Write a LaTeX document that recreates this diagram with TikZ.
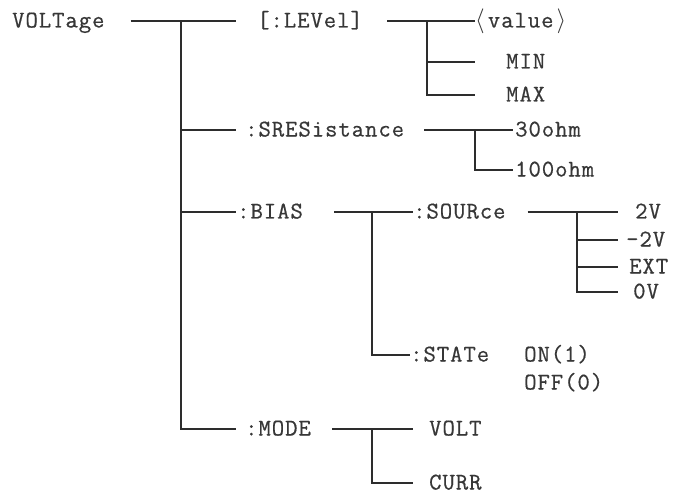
\documentclass[tikz,border=0pt]{standalone}
\usepackage{fontspec}
\usepackage{xcolor}
\usepackage{tikz}
\setmonofont{Latin Modern Mono}[LetterSpace=4,FakeBold=0.6]
\definecolor{linegray}{RGB}{45,45,45}
\definecolor{textgray}{RGB}{55,55,55}

\begin{document}
\begin{tikzpicture}[x=1pt,y=-1pt,
  lbl/.style={anchor=west, inner sep=0pt, text=textgray,
    font=\ttfamily\fontsize{24}{24}\selectfont, text height=13pt, text depth=0pt},
  tree/.style={draw=linegray, line width=2.2pt}]
\useasboundingbox (0,0) rectangle (673,495);

% VOLTage root and its trunk
\node[lbl] (volt) at (12,21) {VOLTage};
\coordinate (j0) at (181,21);
\coordinate (e0) at (236,21);
\draw[tree] ([xshift=26]volt.east) -- (e0);

% [:LEVel]
\node[lbl] (lev) at (257,21) {[:LEVel]};
\node[lbl] (val) at (475,21) {$\langle$\hspace{3pt}value\hspace{3pt}$\rangle$};
\node[lbl] (min) at (506,62) {MIN};
\node[lbl] (max) at (506,95) {MAX};
\coordinate (j1) at (427,21);
\draw[tree] ([xshift=24]lev.east) -- (val.west);
\foreach \n in {min,max} \draw[tree] (j1) |- ([xshift=-31]\n.west);

% :SRESistance
\node[lbl] (sres) at (245,130) {:SRESistance};
\node[lbl] (o30) at (515,130) {30ohm};
\node[lbl] (o100) at (515,170) {100ohm};
\coordinate (j2) at (475,130);
\draw[tree] ([xshift=20]sres.east) -- ([xshift=-2]o30.west);
\draw[tree] (j2) |- ([xshift=-2]o100.west);

% :BIAS
\node[lbl] (bias) at (237,212) {:BIAS};
\node[lbl] (src) at (413,212) {:SOURce};
\node[lbl] (stat) at (410,355) {:STATe};
\node[lbl] (on) at (524,355) {ON(1)};
\node[lbl] (off) at (524,383) {OFF(0)};
\coordinate (j3) at (372,212);
\draw[tree] ([xshift=31]bias.east) -- (src.west);
\draw[tree] (j3) |- (stat.west);

% :SOURce values
\node[lbl] (v2) at (635,212) {2V};
\node[lbl] (vm2) at (626,240) {-2V};
\node[lbl] (ext) at (629,267) {EXT};
\node[lbl] (v0) at (633,292) {0V};
\coordinate (j4) at (577,212);
\coordinate (e4) at (618,212);
\draw[tree] ([xshift=22]src.east) -- (e4);
\foreach \n in {vm2,ext,v0} \draw[tree] (j4) |- (e4 |- \n.west);

% :MODE
\node[lbl] (mode) at (245,429) {:MODE};
\node[lbl] (volt2) at (429,429) {VOLT};
\node[lbl] (curr) at (429,483) {CURR};
\coordinate (j5) at (372,429);
\coordinate (e5) at (413,429);
\draw[tree] ([xshift=21]mode.east) -- (e5);
\draw[tree] (j5) |- (e5 |- curr.west);

% branches off the root trunk
\foreach \n in {sres,bias,mode} \draw[tree] (j0) |- (e0 |- \n.west);

\end{tikzpicture}
\end{document}
